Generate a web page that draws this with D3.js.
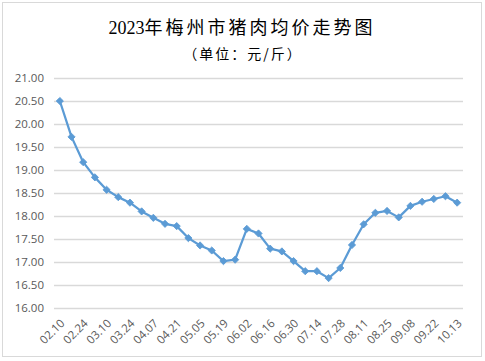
<!DOCTYPE html>
<html>
<head>
<meta charset="utf-8">
<script src="https://cdn.jsdelivr.net/npm/d3@7"></script>
<style>
  html, body { margin: 0; padding: 0; background: #fff; }
  svg { display: block; }
</style>
</head>
<body>
<svg id="chart" width="485" height="361"></svg>
<script>
const titleYear = "2023";
const titleText = "年梅州市猪肉均价走势图";
const subtitleText = "（单位：元/斤）";

const categories = [
  "02.10","02.17","02.24","03.03","03.10","03.17","03.24","03.31",
  "04.07","04.14","04.21","04.28","05.05","05.12","05.19","05.26",
  "06.02","06.09","06.16","06.23","06.30","07.07","07.14","07.21",
  "07.28","08.04","08.11","08.18","08.25","09.01","09.08","09.15",
  "09.22","09.29","10.13"
];
const prices = [
  20.50, 19.72, 19.17, 18.84, 18.57, 18.41, 18.29, 18.10,
  17.96, 17.83, 17.78, 17.52, 17.36, 17.25, 17.02, 17.05,
  17.72, 17.62, 17.29, 17.23, 17.02, 16.80, 16.80, 16.65,
  16.87, 17.37, 17.82, 18.07, 18.11, 17.97, 18.22, 18.31,
  18.37, 18.43, 18.29
];
const yTicks = [16.00, 16.50, 17.00, 17.50, 18.00, 18.50, 19.00, 19.50, 20.00, 20.50, 21.00];
const xTickLabels = categories.filter((d, i) => i % 2 === 0);

const svg = d3.select("#chart");

svg.append("rect")
  .attr("x", 2.5).attr("y", 2.5).attr("width", 479).attr("height", 354)
  .attr("fill", "#fff").attr("stroke", "#d9d9d9").attr("stroke-width", 1);

const plotLeft = 54, plotRight = 463, plotTop = 78, plotBottom = 308;

const x = d3.scalePoint().domain(categories).range([plotLeft, plotRight]).padding(0.5);
const y = d3.scaleLinear().domain([16, 21]).range([plotBottom, plotTop]);

// gridlines
const yAxis = d3.axisLeft(y).tickValues(yTicks).tickFormat(d3.format(".2f"))
  .tickSize(-(plotRight - plotLeft)).tickPadding(10);
const gy = svg.append("g").attr("transform", `translate(${plotLeft},0)`).call(yAxis);
gy.select(".domain").remove();
gy.selectAll(".tick line").attr("stroke", "#d9d9d9").attr("stroke-width", 1.3);
gy.selectAll(".tick text")
  .attr("fill", "#595959")
  .style("font-family", "'Open Sans', 'Liberation Sans', sans-serif")
  .style("font-size", "11.5px");

// x axis labels
const xAxis = d3.axisBottom(x).tickValues(xTickLabels).tickSize(0).tickPadding(0);
const gx = svg.append("g").attr("transform", `translate(0,${plotBottom})`).call(xAxis);
gx.select(".domain").remove();
gx.selectAll(".tick text")
  .attr("fill", "#595959")
  .style("font-family", "'Open Sans', 'Liberation Sans', sans-serif")
  .style("font-size", "11.5px")
  .attr("text-anchor", "end")
  .attr("dy", null)
  .attr("y", null)
  .attr("transform", "translate(5,16) rotate(-45)");

// line
const line = d3.line().x((d, i) => x(categories[i])).y(d => y(d));
svg.append("path")
  .datum(prices)
  .attr("d", line)
  .attr("fill", "none")
  .attr("stroke", "#5b9bd5")
  .attr("stroke-width", 2.25)
  .attr("stroke-linejoin", "round");

// markers
svg.append("g").selectAll("path")
  .data(prices)
  .join("path")
  .attr("d", d3.symbol().type(d3.symbolSquare).size(26))
  .attr("transform", (d, i) => `translate(${x(categories[i])},${y(d)}) rotate(45)`)
  .attr("fill", "#5b9bd5")
  .attr("stroke", "#5b9bd5")
  .attr("stroke-width", 0.8);

// title
const title = svg.append("text")
  .attr("x", 242).attr("y", 34)
  .attr("text-anchor", "middle")
  .attr("fill", "#000");
title.append("tspan")
  .style("font-family", "'Liberation Serif', serif")
  .style("font-size", "18px")
  .text(titleYear);
title.append("tspan")
  .style("font-family", "'Noto Sans CJK SC', sans-serif")
  .style("font-size", "18px")
  .style("letter-spacing", "3px")
  .text(titleText);

svg.append("text")
  .attr("x", 243).attr("y", 59)
  .attr("text-anchor", "middle")
  .attr("fill", "#000")
  .style("font-family", "'Noto Sans CJK SC', sans-serif")
  .style("font-size", "14px")
  .style("letter-spacing", "2px")
  .text(subtitleText);
</script>
</body>
</html>
